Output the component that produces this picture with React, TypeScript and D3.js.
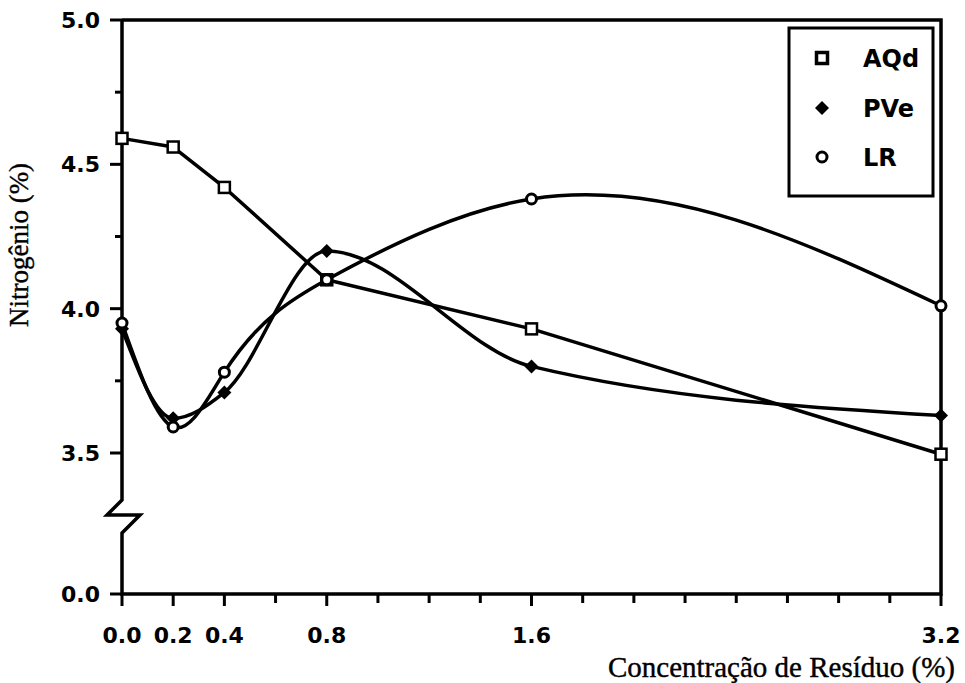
import React from 'react';
import * as d3 from 'd3';

const concentrations = [0, 0.2, 0.4, 0.8, 1.6, 3.2];
const aqdValues = [4.59, 4.56, 4.42, 4.1, 3.93, 3.47];
const pveValues = [3.93, 3.62, 3.71, 4.2, 3.8, 3.63];
const lrValues = [3.95, 3.59, 3.78, 4.1, 4.38, 4.01];
const seriesNames = ['AQd', 'PVe', 'LR'];
const xTickLabels = [0, 0.2, 0.4, 0.8, 1.6, 3.2];
const xMinorTicks = [0, 0.2, 0.4, 0.6, 0.8, 1.0, 1.2, 1.4, 1.6, 1.8, 2.0, 2.2, 2.4, 2.6, 2.8, 3.0, 3.2];
const yTickLabels = [0, 3.5, 4.0, 4.5, 5.0];
const yMinorTicks = [3.75, 4.25, 4.75];

const W = 965;
const H = 683;
const left = 122;
const right = 941;
const top = 20;
const bottom = 594;

const x = d3.scaleLinear().domain([0, 3.2]).range([left, right]);
const y = d3.scaleLinear().domain([0, 3.5, 5]).range([bottom, 453, top]);

type P = [number, number];

function pts(vals: number[]): P[] {
  return concentrations.map((c, i) => [x(c), y(vals[i])] as P);
}

// Custom d3 curve: natural cubic spline of y as a function of x
function naturalSlopes(xs: number[], ys: number[]): number[] {
  const n = xs.length;
  const h: number[] = [];
  for (let i = 0; i < n - 1; i++) h.push(xs[i + 1] - xs[i]);
  const a: number[] = new Array(n).fill(0);
  const b: number[] = new Array(n).fill(1);
  const c: number[] = new Array(n).fill(0);
  const r: number[] = new Array(n).fill(0);
  for (let i = 1; i < n - 1; i++) {
    a[i] = h[i - 1];
    b[i] = 2 * (h[i - 1] + h[i]);
    c[i] = h[i];
    r[i] = 6 * ((ys[i + 1] - ys[i]) / h[i] - (ys[i] - ys[i - 1]) / h[i - 1]);
  }
  const cp = new Array(n).fill(0);
  const rp = new Array(n).fill(0);
  cp[0] = c[0] / b[0];
  rp[0] = r[0] / b[0];
  for (let i = 1; i < n; i++) {
    const den = b[i] - a[i] * cp[i - 1];
    cp[i] = c[i] / den;
    rp[i] = (r[i] - a[i] * rp[i - 1]) / den;
  }
  const M = new Array(n).fill(0);
  M[n - 1] = rp[n - 1];
  for (let i = n - 2; i >= 0; i--) M[i] = rp[i] - cp[i] * M[i + 1];
  const m: number[] = [];
  for (let i = 0; i < n - 1; i++) {
    m.push((ys[i + 1] - ys[i]) / h[i] - (h[i] * (2 * M[i] + M[i + 1])) / 6);
  }
  const k = n - 2;
  m.push((ys[n - 1] - ys[k]) / h[k] + (h[k] * (M[k] + 2 * M[n - 1])) / 6);
  return m;
}

function curveNaturalX(context: any) {
  let xs: number[] = [];
  let ys: number[] = [];
  return {
    areaStart() {},
    areaEnd() {},
    lineStart() {
      xs = [];
      ys = [];
    },
    point(px: number, py: number) {
      xs.push(+px);
      ys.push(+py);
    },
    lineEnd() {
      const n = xs.length;
      if (!n) return;
      context.moveTo(xs[0], ys[0]);
      if (n === 2) {
        context.lineTo(xs[1], ys[1]);
      } else if (n > 2) {
        const m = naturalSlopes(xs, ys);
        for (let i = 0; i < n - 1; i++) {
          const hh = xs[i + 1] - xs[i];
          context.bezierCurveTo(
            xs[i] + hh / 3, ys[i] + (m[i] * hh) / 3,
            xs[i + 1] - hh / 3, ys[i + 1] - (m[i + 1] * hh) / 3,
            xs[i + 1], ys[i + 1]
          );
        }
      }
    },
  };
}

const lineLin = d3.line<P>().x(d => d[0]).y(d => d[1]).curve(d3.curveLinear);
const lineMono = d3.line<P>().x(d => d[0]).y(d => d[1]).curve(d3.curveMonotoneX);
const lineNat = d3.line<P>().x(d => d[0]).y(d => d[1]).curve(curveNaturalX as any);

const sansBold = { fontFamily: '"DejaVu Sans", sans-serif', fontWeight: 'bold' as const, fontSize: 22 };
const serif = { fontFamily: '"Liberation Serif", "Times New Roman", serif' };

function Square({ cx, cy, s = 11, sw = 2.5 }: { cx: number; cy: number; s?: number; sw?: number }) {
  return <rect x={cx - s / 2} y={cy - s / 2} width={s} height={s} fill="white" stroke="black" strokeWidth={sw} />;
}
function Diamond({ cx, cy, r = 7 }: { cx: number; cy: number; r?: number }) {
  return <path d={`M${cx},${cy - r}L${cx + r},${cy}L${cx},${cy + r}L${cx - r},${cy}Z`} fill="black" />;
}
function Circle({ cx, cy, r = 5 }: { cx: number; cy: number; r?: number }) {
  return <circle cx={cx} cy={cy} r={r} fill="white" stroke="black" strokeWidth={3} />;
}

export default function App() {
  const aqd = pts(aqdValues);
  const pve = pts(pveValues);
  const lr = pts(lrValues);
  const legendY = [58, 108, 157];
  const axisPath = `M${left},${top}V500L107,515L140,515L${left},533V${bottom}H${right}V${top}H${left}`;
  const lw = 3.5;
  return (
    <svg width={W} height={H} style={{ position: 'absolute', left: 0, top: 0, background: 'white' }}>
      <rect x={0} y={0} width={W} height={H} fill="white" />
      <path d={axisPath} fill="none" stroke="black" strokeWidth={3.5} strokeLinejoin="miter" />
      {yTickLabels.map(v => (
        <g key={'yt' + v}>
          <line x1={left - 12} x2={left} y1={y(v)} y2={y(v)} stroke="black" strokeWidth={3} />
          <text x={100} y={y(v)} dy="0.36em" textAnchor="end" style={sansBold}>{v.toFixed(1)}</text>
        </g>
      ))}
      {yMinorTicks.map(v => (
        <line key={'ym' + v} x1={left - 7} x2={left} y1={y(v)} y2={y(v)} stroke="black" strokeWidth={3} />
      ))}
      {xMinorTicks.map(v => (
        <line key={'xm' + v} x1={x(v)} x2={x(v)} y1={bottom} y2={bottom + (xTickLabels.includes(v) ? 12 : 9)} stroke="black" strokeWidth={3} />
      ))}
      {xTickLabels.map(v => (
        <text key={'xl' + v} x={x(v)} y={643} textAnchor="middle" style={sansBold}>{v.toFixed(1)}</text>
      ))}
      <text transform="translate(28,245) rotate(-90)" textAnchor="middle" stroke="black" strokeWidth={0.4} style={{ ...serif, fontSize: 27 }}>Nitrogênio (%)</text>
      <text x={955} y={677} textAnchor="end" stroke="black" strokeWidth={0.4} style={{ ...serif, fontSize: 29 }}>Concentração de Resíduo (%)</text>

      <path d={lineLin(aqd) || ''} fill="none" stroke="black" strokeWidth={lw} strokeLinejoin="round" />
      <path d={lineMono(pve) || ''} fill="none" stroke="black" strokeWidth={lw} />
      <path d={lineNat(lr) || ''} fill="none" stroke="black" strokeWidth={lw} />
      {aqd.map((p, i) => <Square key={'a' + i} cx={p[0]} cy={p[1]} />)}
      {pve.map((p, i) => <Diamond key={'p' + i} cx={p[0]} cy={p[1]} />)}
      {lr.map((p, i) => <Circle key={'l' + i} cx={p[0]} cy={p[1]} />)}

      <rect x={789} y={28} width={144} height={168} fill="white" stroke="black" strokeWidth={3} />
      {seriesNames.map((n, i) => (
        <g key={n}>
          {i === 0 && <Square cx={822} cy={legendY[i]} s={11} sw={3.5} />}
          {i === 1 && <Diamond cx={822} cy={legendY[i]} r={7} />}
          {i === 2 && <Circle cx={822} cy={legendY[i]} r={5} />}
          <text x={863} y={legendY[i]} dy="0.36em" style={{ ...sansBold, fontSize: 24 }}>{n}</text>
        </g>
      ))}
    </svg>
  );
}
